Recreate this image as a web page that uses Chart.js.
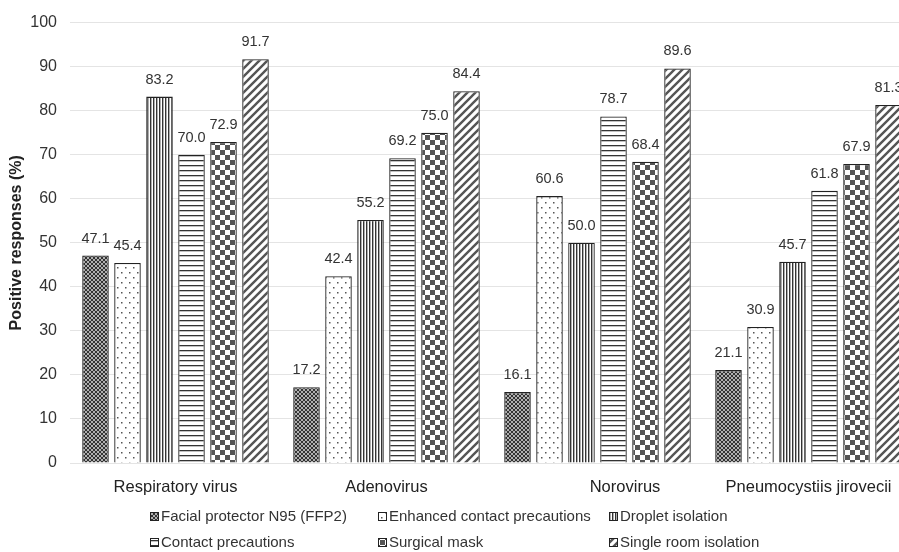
<!DOCTYPE html>
<html>
<head>
<meta charset="utf-8">
<script src="https://cdn.jsdelivr.net/npm/chart.js@4.4.1/dist/chart.umd.min.js"></script>
<style>
  html, body { margin: 0; padding: 0; background: #fff; overflow: hidden; }
  #wrap { width: 930px; height: 552px; }
</style>
</head>
<body>
<div id="wrap"><canvas id="chart" width="930" height="552"></canvas></div>
<script>
const categories = ['Respiratory virus', 'Adenovirus', '            Norovirus', 'Pneumocystiis jirovecii'];
const seriesNames = ['Facial protector N95 (FFP2)', 'Enhanced contact precautions', 'Droplet isolation',
  'Contact precautions', 'Surgical mask', 'Single room isolation'];
const n95 = [47.1, 17.2, 16.1, 21.1];
const enhanced = [45.4, 42.4, 60.6, 30.9];
const droplet = [83.2, 55.2, 50.0, 45.7];
const contact = [70.0, 69.2, 78.7, 61.8];
const surgical = [72.9, 75.0, 68.4, 67.9];
const singleRoom = [91.7, 84.4, 89.6, 81.3];
const yTicks = [0, 10, 20, 30, 40, 50, 60, 70, 80, 90, 100];

const FONT = '"Liberation Sans", Arial, Helvetica, sans-serif';

// little tiles for the hatch fills
function tile(w, h, draw) {
  const c = document.createElement('canvas');
  c.width = w; c.height = h;
  const g = c.getContext('2d');
  g.fillStyle = '#fff';
  g.fillRect(0, 0, w, h);
  draw(g);
  return document.getElementById('chart').getContext('2d').createPattern(c, 'repeat');
}

const patterns = [
  tile(4, 4, g => {
    g.fillStyle = '#333'; g.fillRect(0, 0, 4, 4);
    g.fillStyle = '#b0b0b0';
    g.fillRect(1, 0, 2, 1); g.fillRect(0, 1, 1, 2); g.fillRect(3, 1, 1, 2); g.fillRect(1, 3, 2, 1);
  }),
  tile(8, 10, g => {
    g.fillStyle = '#555';
    g.fillRect(1, 2, 1.5, 1.5); g.fillRect(5, 7, 1.5, 1.5);
  }),
  tile(3, 3, g => {
    g.fillStyle = '#333'; g.fillRect(0, 0, 1.4, 3);
  }),
  tile(5, 5, g => {
    g.fillStyle = '#333'; g.fillRect(0, 0, 5, 1.3);
  }),
  tile(10, 10, g => {
    g.fillStyle = '#555'; g.fillRect(0, 0, 5, 5); g.fillRect(5, 5, 5, 5);
  }),
  tile(8, 8, g => {
    g.strokeStyle = '#555'; g.lineWidth = 2.4;
    g.beginPath();
    g.moveTo(-2, 10); g.lineTo(10, -2);
    g.moveTo(-6, 6); g.lineTo(6, -6);
    g.moveTo(2, 14); g.lineTo(14, 2);
    g.stroke();
  })
];

const seriesData = [n95, enhanced, droplet, contact, surgical, singleRoom];

const valueLabels = {
  id: 'valueLabels',
  afterDatasetsDraw(chart) {
    const ctx = chart.ctx;
    ctx.save();
    ctx.font = '14.5px ' + FONT;
    ctx.fillStyle = '#333';
    ctx.textAlign = 'center';
    ctx.textBaseline = 'middle';
    chart.data.datasets.forEach((ds, i) => {
      chart.getDatasetMeta(i).data.forEach((bar, j) => {
        ctx.fillText(ds.data[j].toFixed(1), bar.x, bar.y - 17);
      });
    });
    ctx.restore();
  }
};

// legend laid out in a 3 column grid like the original
const gridLegend = {
  id: 'gridLegend',
  afterDraw(chart) {
    const ctx = chart.ctx;
    const cols = [150, 378, 609];
    const rows = [516, 542];
    ctx.save();
    ctx.font = '15px ' + FONT;
    ctx.textBaseline = 'middle';
    chart.data.datasets.forEach((ds, i) => {
      const x = cols[i % 3], y = rows[Math.floor(i / 3)];
      ctx.fillStyle = ds.backgroundColor;
      ctx.fillRect(x, y - 4, 9, 9);
      ctx.strokeStyle = '#222';
      ctx.lineWidth = 1;
      ctx.strokeRect(x + 0.5, y - 3.5, 8, 8);
      ctx.fillStyle = '#333';
      ctx.fillText(ds.label, x + 11, y + 1);
    });
    ctx.restore();
  }
};

new Chart(document.getElementById('chart'), {
  type: 'bar',
  data: {
    labels: categories,
    datasets: seriesData.map((d, i) => ({
      label: seriesNames[i],
      data: d,
      backgroundColor: patterns[i],
      borderColor: '#222',
      borderWidth: 1.3,
      categoryPercentage: 0.91,
      barPercentage: 0.83
    }))
  },
  options: {
    responsive: false,
    animation: false,
    layout: { padding: { top: 20, right: 16, bottom: 0, left: 0 } },
    plugins: {
      legend: { display: false },
      tooltip: { enabled: false }
    },
    scales: {
      x: {
        grid: { display: false },
        border: { display: false },
        ticks: { color: '#222', font: { family: FONT, size: 16.5 }, padding: 7, maxRotation: 0, autoSkip: false },
        afterFit(scale) { scale.height = 89; }
      },
      y: {
        min: 0,
        max: 100,
        afterBuildTicks(scale) { scale.ticks = yTicks.map(v => ({ value: v })); },
        grid: { color: '#e4e4e4', drawTicks: false },
        border: { display: false },
        ticks: { color: '#333', font: { family: FONT, size: 16 }, padding: 13 },
        title: {
          display: true,
          text: 'Positive responses (%)',
          color: '#222',
          font: { family: FONT, size: 16, weight: 'bold' },
          padding: { top: 7, bottom: 0 }
        },
        afterFit(scale) { scale.width = 70; }
      }
    }
  },
  plugins: [valueLabels, gridLegend]
});
</script>
</body>
</html>
